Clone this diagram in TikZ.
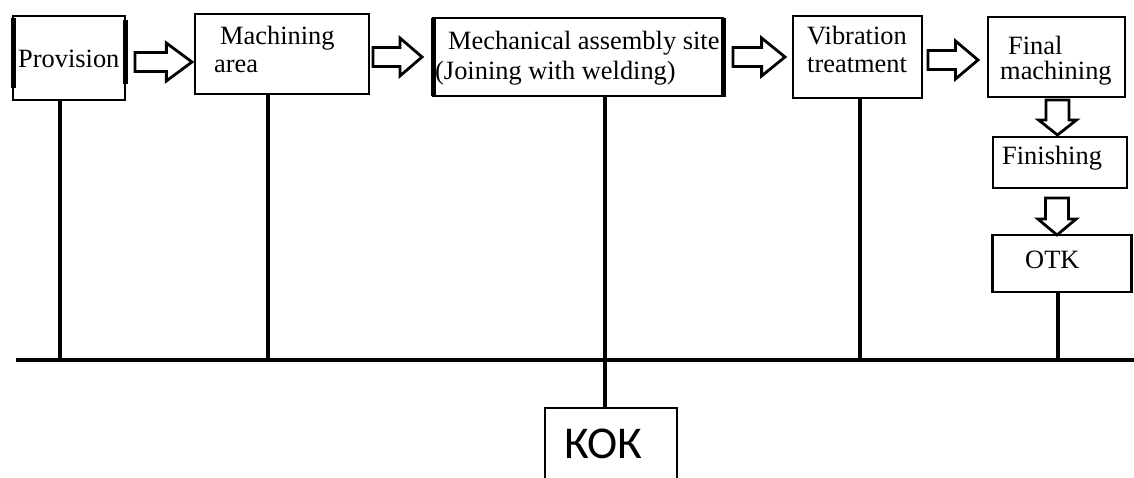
\documentclass[tikz,border=0pt]{standalone}
\usepackage{fontspec}
\setmainfont{Liberation Serif}
\newfontfamily\kokfont{Carlito}
\newcommand\rightblock[3]{% x0, yc, len
  \draw[blockarrow] ({#1},{#2-9.5}) -- ({#1+0.55*#3},{#2-9.5}) -- ({#1+0.55*#3},{#2-19}) -- ({#1+#3},{#2})
    -- ({#1+0.55*#3},{#2+19}) -- ({#1+0.55*#3},{#2+9.5}) -- ({#1},{#2+9.5}) -- cycle;}
\newcommand\downblock[3]{% xc, y0, len
  \draw[blockarrow] ({#1-11.5},{#2}) -- ({#1-11.5},{#2+0.57*#3}) -- ({#1-19},{#2+0.57*#3}) -- ({#1},{#2+#3})
    -- ({#1+19},{#2+0.57*#3}) -- ({#1+11.5},{#2+0.57*#3}) -- ({#1+11.5},{#2}) -- cycle;}
\begin{document}
\begin{tikzpicture}[x=1pt,y=-1pt,
  box/.style={draw, line width=2.8pt, inner sep=0pt, outer sep=0pt},
  lbl/.style={anchor=base west, inner sep=0pt, font=\fontsize{26.4}{29}\selectfont},
  wire/.style={line width=3.4pt},
  thickside/.style={line width=5pt},
  blockarrow/.style={draw, line width=2.8pt, fill=white, line join=miter}]
\useasboundingbox (0,0) rectangle (1134,478);
% boxes
\node[box, minimum width=112pt, minimum height=84pt] (prov) at (69,58) {};
\node[box, minimum width=174pt, minimum height=80pt] (mach) at (282,54) {};
\node[box, minimum width=290pt, minimum height=78pt] (mech) at (578,57) {};
\node[box, minimum width=129pt, minimum height=82pt] (vib) at (857.5,57) {};
\node[box, minimum width=137pt, minimum height=80pt] (fin) at (1056.5,57) {};
\node[box, minimum width=134pt, minimum height=51pt] (finish) at (1060,162.5) {};
\node[box, minimum width=139pt, minimum height=57pt] (otk) at (1062,263.5) {};
\node[box, minimum width=132pt, minimum height=110pt] (kokbox) at (611,463) {};
% thick sides
\draw[thickside] (13,18) -- (13,88);
\draw[thickside] (125,20) -- (125,84);
\draw[thickside] (433,18) -- (433,96);
\draw[thickside] (723,18) -- (723,97);
% texts
\node[lbl] (tprov) at (18,68) {Provision};
\node[lbl] (tmach1) at (220,45) {Machining};
\node[lbl] (tmach2) at (214,73) {area};
\node[lbl] (tmech1) at (448,50) {Mechanical assembly site};
\node[lbl] (tmech2) at (435,80) {(Joining with welding)};
\node[lbl] (tvib1) at (807,45) {Vibration};
\node[lbl] (tvib2) at (807,73) {treatment};
\node[lbl] (tfin1) at (1008,55) {Final};
\node[lbl] (tfin2) at (1000,80) {machining};
\node[lbl] (tfinish) at (1002,165) {Finishing};
\node[lbl] (totk) at (1025,268) {OTK};
\node[anchor=base west, inner sep=0pt, font=\kokfont\fontsize{45.5}{50}\selectfont] (kok) at (564,458) {КОК};
% block arrows
\rightblock{135}{62}{57}
\rightblock{373}{57}{49}
\rightblock{733}{57}{52}
\rightblock{928}{60}{50}
\downblock{1057.5}{100}{35}
\downblock{1057}{198}{37}
% bus
\coordinate (busL) at (16,360);
\coordinate (busR) at (1134,360);
\coordinate (b1) at (60,360);
\coordinate (b2) at (268,360);
\coordinate (b3) at (860,360);
\coordinate (b4) at (1058,360);
\coordinate (k) at (605,408);
\draw[wire] (busL) -- (busR);
\draw[wire] (prov.south -| b1) -- (b1);
\draw[wire] (mach.south -| b2) -- (b2);
\draw[wire] (vib.south -| b3) -- (b3);
\draw[wire] (otk.south -| b4) -- (b4);
\draw[wire] (mech.south -| k) -- (k);
\end{tikzpicture}
\end{document}
